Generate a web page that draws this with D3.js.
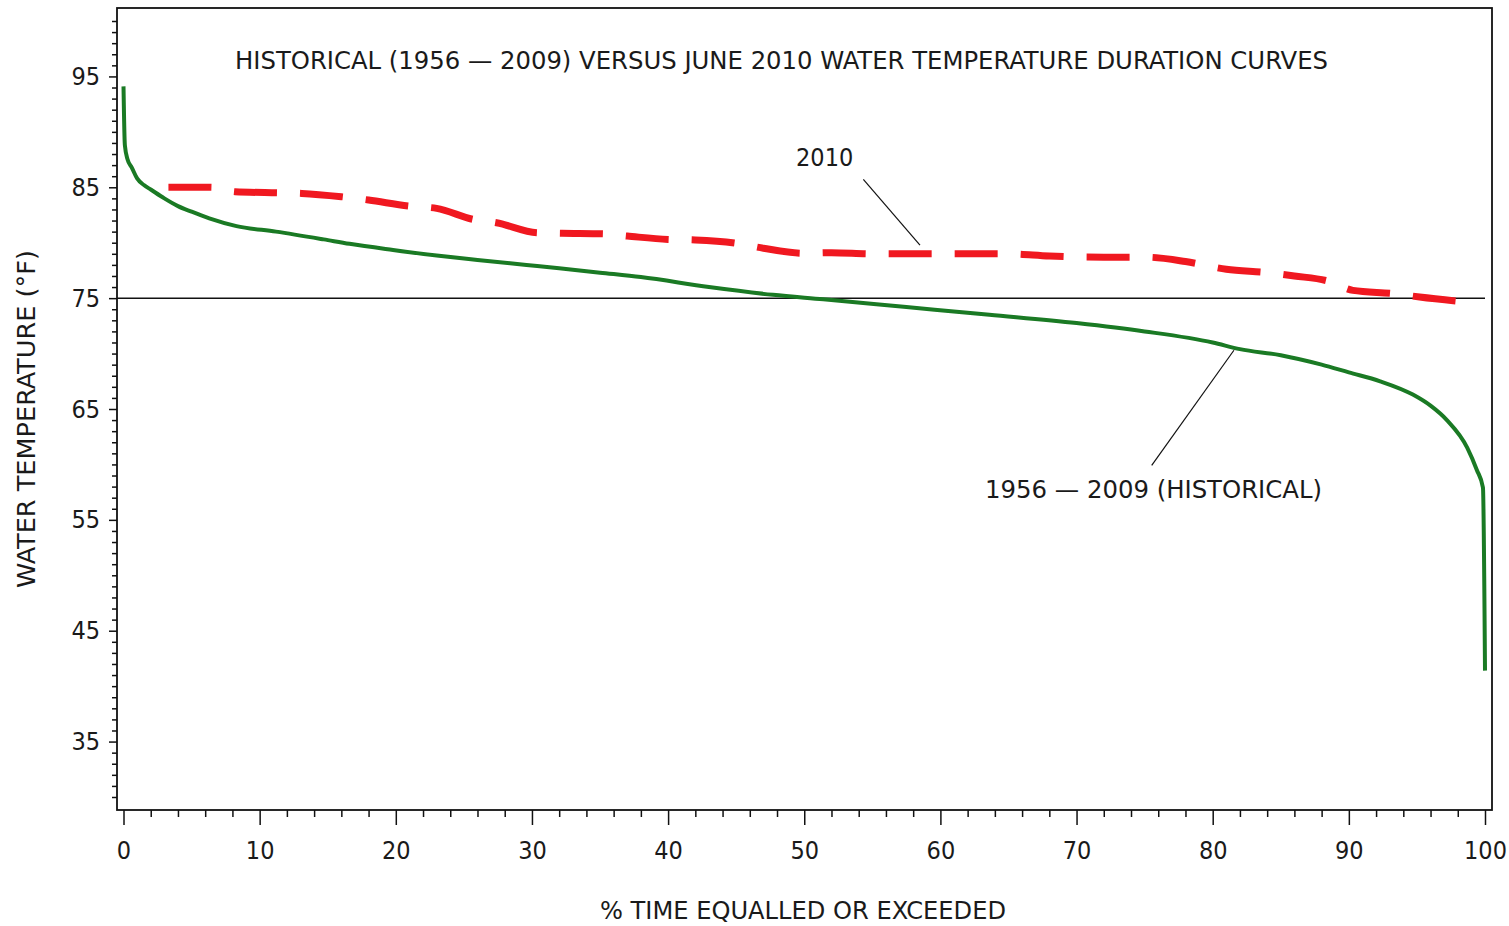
<!DOCTYPE html>
<html>
<head>
<meta charset="utf-8">
<script src="https://cdn.jsdelivr.net/npm/d3@7"></script>
<style>
  html, body { margin: 0; padding: 0; background: #fff; }
  svg text { font-family: 'Liberation Sans Narrow', 'DejaVu Sans Condensed', 'Liberation Sans', sans-serif; fill: #1a1a1a; }
</style>
</head>
<body>
<svg id="chart" width="1509" height="926"></svg>
<script>
// historical (1956-2009) duration curve: % time exceeded vs temperature (F)
const histPct = [0, 0.1, 0.3, 0.6, 1.0, 1.5, 2, 3, 4, 5, 6.3, 8.3, 11.2, 14.7, 16.6, 19.8, 23, 26, 29.6, 32, 35, 38, 43, 47.7, 51.4, 57.5, 63.6, 70, 75, 80, 82, 85, 88, 90, 92.3, 94.7, 96, 97.2, 98.7, 99.4, 99.85, 100];
const histTemp = [94.1, 88.8, 87.5, 86.8, 85.8, 85.2, 84.8, 84.0, 83.3, 82.8, 82.2, 81.5, 81.0, 80.3, 79.9, 79.35, 78.85, 78.45, 78.0, 77.7, 77.3, 76.9, 76.0, 75.3, 74.9, 74.2, 73.5, 72.75, 72.0, 71.0, 70.4, 69.85, 69.0, 68.3, 67.5, 66.3, 65.3, 64.0, 61.5, 59.5, 57.9, 41.4];

// June 2010 duration curve
const junePct = [3.3, 6.4, 8.2, 11.3, 13.1, 16, 18, 21, 23, 25.7, 27.4, 30.4, 32.2, 35.2, 37, 40, 42, 45, 47, 50, 52, 55, 60, 65, 68, 72, 75, 78, 81, 84, 86, 88.6, 90.3, 93.4, 95.2, 98.2];
const juneTemp = [85.0, 85.0, 84.6, 84.5, 84.45, 84.15, 83.85, 83.3, 83.1, 82.1, 81.8, 80.9, 80.85, 80.8, 80.6, 80.3, 80.25, 79.95, 79.5, 79.05, 79.1, 79.0, 79.0, 79.0, 78.8, 78.7, 78.7, 78.3, 77.6, 77.3, 77.0, 76.5, 75.7, 75.4, 75.1, 74.7];

const xTickLabels = [0, 10, 20, 30, 40, 50, 60, 70, 80, 90, 100];
const yTickLabels = [35, 45, 55, 65, 75, 85, 95];
const refTemp = 75;

const titleText = "HISTORICAL (1956 — 2009) VERSUS JUNE 2010 WATER TEMPERATURE DURATION CURVES";
const xTitle = "% TIME EQUALLED OR EXCEEDED";
const yTitle = "WATER TEMPERATURE (°F)";

const svg = d3.select("#chart");

const x = d3.scaleLinear().domain([0, 100]).range([123.5, 1485]);
const y = d3.scaleLinear().domain([30, 100]).range([797, 21]);

const frame = { left: 117, right: 1492, top: 8, bottom: 810 };

// x axis ticks (minor every 2, major every 10)
const xMinor = d3.range(0, 101, 2).filter(v => v % 10 !== 0);
svg.append("g")
  .attr("transform", `translate(0,${frame.bottom})`)
  .call(d3.axisBottom(x).tickValues(xMinor).tickSize(7).tickFormat(""))
  .call(g => g.select(".domain").remove());
svg.append("g")
  .attr("class", "x-major")
  .attr("transform", `translate(0,${frame.bottom})`)
  .call(d3.axisBottom(x).tickValues(xTickLabels).tickSize(15).tickPadding(16))
  .call(g => g.select(".domain").remove())
  .selectAll("text").attr("font-size", 25).attr("fill", "#333");

// y axis ticks (minor every 1)
const yMinor = d3.range(30, 101, 1).filter(v => !yTickLabels.includes(v));
svg.append("g")
  .attr("transform", `translate(${frame.left},0)`)
  .call(d3.axisLeft(y).tickValues(yMinor).tickSize(5).tickFormat(""))
  .call(g => g.select(".domain").remove());
svg.append("g")
  .attr("transform", `translate(${frame.left},0)`)
  .call(d3.axisLeft(y).tickValues(yTickLabels).tickSize(8).tickPadding(9))
  .call(g => g.select(".domain").remove())
  .selectAll("text").attr("font-size", 25).attr("fill", "#333");

svg.selectAll(".tick line").attr("stroke", "#111").attr("stroke-width", 1.5);

// frame
svg.append("rect")
  .attr("x", frame.left).attr("y", frame.top)
  .attr("width", frame.right - frame.left).attr("height", frame.bottom - frame.top)
  .attr("fill", "none").attr("stroke", "#111").attr("stroke-width", 1.8);

// 75 F reference line
svg.append("line")
  .attr("x1", frame.left).attr("x2", x(100))
  .attr("y1", y(refTemp)).attr("y2", y(refTemp))
  .attr("stroke", "#111").attr("stroke-width", 1.5);

const line = d3.line()
  .x(d => x(d[0]))
  .y(d => y(d[1]))
  .curve(d3.curveMonotoneX);

svg.append("path")
  .datum(histPct.map((p, i) => [p, histTemp[i]]))
  .attr("d", line)
  .attr("fill", "none")
  .attr("stroke", "#1a7a24")
  .attr("stroke-width", 4);

svg.append("path")
  .datum(junePct.map((p, i) => [p, juneTemp[i]]))
  .attr("d", line)
  .attr("fill", "none")
  .attr("stroke", "#f01820")
  .attr("stroke-width", 7)
  .attr("stroke-dasharray", "43,23");

// annotations with leader lines
svg.append("line")
  .attr("x1", x(54.34)).attr("y1", y(85.72))
  .attr("x2", x(58.5)).attr("y2", y(79.79))
  .attr("stroke", "#111").attr("stroke-width", 1.2);
svg.append("text")
  .attr("x", x(51.5)).attr("y", y(86.92))
  .attr("text-anchor", "middle")
  .attr("font-size", 25)
  .text("2010");

svg.append("line")
  .attr("x1", x(75.52)).attr("y1", y(59.91))
  .attr("x2", x(81.56)).attr("y2", y(70.3))
  .attr("stroke", "#111").attr("stroke-width", 1.2);
svg.append("text")
  .attr("x", x(63.28)).attr("y", y(56.93))
  .attr("font-size", 25)
  .attr("textLength", 337).attr("lengthAdjust", "spacingAndGlyphs")
  .text("1956 — 2009 (HISTORICAL)");

// titles
svg.append("text")
  .attr("x", 235).attr("y", 69)
  .attr("font-size", 25)
  .attr("textLength", 1093).attr("lengthAdjust", "spacingAndGlyphs")
  .text(titleText);

svg.append("text")
  .attr("x", 600).attr("y", 919)
  .attr("font-size", 25)
  .attr("textLength", 406).attr("lengthAdjust", "spacingAndGlyphs")
  .text(xTitle);

svg.append("text")
  .attr("transform", "translate(35,588) rotate(-90)")
  .attr("font-size", 25)
  .attr("textLength", 338).attr("lengthAdjust", "spacingAndGlyphs")
  .text(yTitle);
</script>
</body>
</html>
